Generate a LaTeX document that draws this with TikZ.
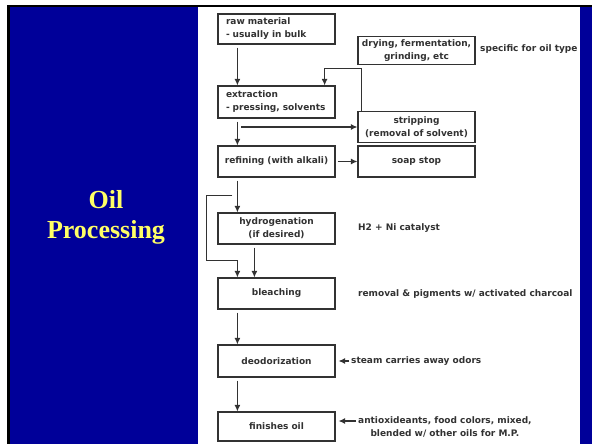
\documentclass[tikz,border=0pt]{standalone}
\usepackage{fontspec}
\usetikzlibrary{arrows.meta,positioning}
\newfontfamily\boxfont{DejaVu Sans}
\newfontfamily\titlefont{Liberation Serif}
\definecolor{slideblue}{RGB}{0,0,153}
\definecolor{inkgray}{RGB}{50,50,50}
\definecolor{titleyellow}{RGB}{255,255,102}
\tikzset{
  stepbox/.style={draw=inkgray, line width=1.2pt, text=inkgray, text width=111pt,
    inner xsep=3pt, minimum height=31pt, align=center,
    font=\boxfont\bfseries\fontsize{9}{13}\selectfont},
  leftbox/.style={stepbox, text width=101pt, inner xsep=8pt, align=left},
  note/.style={inner sep=0pt, anchor=west, text=inkgray,
    font=\boxfont\bfseries\fontsize{9}{13}\selectfont},
  arr/.style={draw=inkgray, line width=1.1pt, -{Latex[length=6.5pt,width=6pt]}},
  down/.style={arr, shorten <=3pt}
}
\begin{document}
\begin{tikzpicture}[x=1pt,y=-1pt]
  \useasboundingbox (0,0) rectangle (592,444);
  \fill[white] (0,0) rectangle (592,444);
  \fill[black] (7,5) rectangle (592,7.5);
  \fill[black] (7,5) rectangle (10,444);
  \fill[slideblue] (10,7.5) rectangle (198,444);
  \fill[slideblue] (580,7.5) rectangle (592,444);
  \node[align=center, text=titleyellow,
        font=\titlefont\bfseries\fontsize{26}{30}\selectfont] (title) at (106,217) {Oil\\Processing};

  \node[leftbox, minimum height=30pt] (raw) at (276.5,29) {raw material\\- usually in bulk};
  \node[stepbox, minimum height=27pt] (dry) at (416.5,50.5) {drying, fermentation,\\grinding, etc};
  \node[note] (spec) at (480,49) {specific for oil type};
  \node[leftbox, minimum height=32pt] (extract) at (276.5,102) {extraction\\- pressing, solvents};
  \node[stepbox] (strip) at (416.5,127) {stripping\\(removal of solvent)};
  \node[stepbox] (refine) at (276.5,161.5) {refining (with alkali)};
  \node[stepbox] (soap) at (416.5,161.5) {soap stop};
  \node[stepbox] (hydro) at (276.5,228.5) {hydrogenation\\(if desired)};
  \node[note] (catalyst) at (358,228) {H2 + Ni catalyst};
  \node[stepbox] (bleach) at (276.5,293.5) {bleaching};
  \node[note] (charcoal) at (358,294) {removal \& pigments w/ activated charcoal};
  \node[stepbox, minimum height=32pt] (deodor) at (276.5,361) {deodorization};
  \node[note] (steam) at (351,361) {steam carries away odors};
  \node[stepbox, minimum height=29pt] (finish) at (276.5,426.5) {finishes oil};
  \node[note] (addA) at (358,421) {antioxideants, food colors, mixed,};
  \node[note, anchor=base] (addB) at ([yshift=-13pt]addA.base) {blended w/ other oils for M.P.};

  \draw[down] ([xshift=20pt]raw.south west) -- ([xshift=20pt]extract.north west);
  \draw[arr] ([xshift=4pt]strip.north west) |- ([xshift=-11pt,yshift=17pt]extract.north east)
    -- ([xshift=-11pt]extract.north east);
  \draw[down] ([xshift=20pt]extract.south west) -- ([xshift=20pt]refine.north west);
  \draw[arr] (strip.west -| extract.west) ++(24,0) -- (strip.west);
  \draw[arr, shorten <=2pt] (refine) -- (soap);
  \draw[down] ([xshift=20pt]refine.south west) -- ([xshift=20pt]hydro.north west);
  \draw[arr] ([xshift=15pt,yshift=-18pt]refine.south west)
    -| ([xshift=-11pt,yshift=17pt]bleach.north west)
    -| ([xshift=20pt]bleach.north west);
  \draw[down] ([xshift=37pt]hydro.south west) -- ([xshift=37pt]bleach.north west);
  \draw[down] ([xshift=20pt]bleach.south west) -- ([xshift=20pt]deodor.north west);
  \draw[down] ([xshift=20pt]deodor.south west) -- ([xshift=20pt]finish.north west);
  \draw[arr, shorten <=2pt, shorten >=3pt] (steam.west) -- (steam.west -| deodor.east);
  \draw[arr, shorten <=2pt, shorten >=3pt] (addA.west) -- (addA.west -| finish.east);
\end{tikzpicture}
\end{document}
